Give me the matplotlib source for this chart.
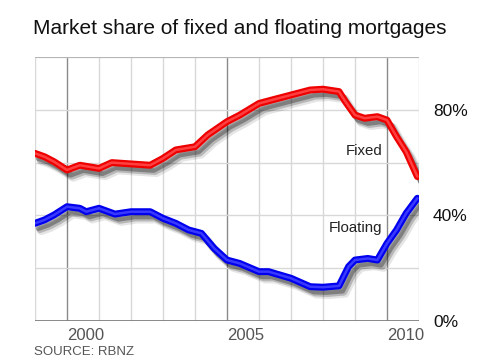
import matplotlib
matplotlib.use("Agg")
import matplotlib.pyplot as plt
import matplotlib.patheffects as pe

# ── data ──────────────────────────────────────────────────────────────────────

fixed_years = [1999.0, 1999.3, 1999.6, 2000.0, 2000.4, 2001.0, 2001.4, 2002.0,
               2002.6, 2003.0, 2003.4, 2004.0, 2004.4, 2005.0, 2005.4, 2006.0,
               2006.4, 2007.0, 2007.6, 2008.0, 2008.5, 2008.7, 2009.0, 2009.3,
               2009.7, 2010.0, 2010.3, 2010.6, 2010.95]
fixed_share = [63.5, 62.2, 60.3, 57.2, 59.0, 57.8, 60.0, 59.5,
               59.0, 61.6, 64.8, 66.0, 70.5, 75.5, 78.0, 82.4,
               83.7, 85.6, 87.5, 87.8, 86.9, 83.1, 78.0, 76.8,
               77.4, 76.1, 69.8, 64.1, 54.7]

float_years = [1999.0, 1999.3, 1999.6, 2000.0, 2000.4, 2000.6, 2001.0, 2001.5,
               2002.0, 2002.6, 2003.0, 2003.4, 2003.8, 2004.2, 2004.6, 2005.0,
               2005.4, 2006.0, 2006.3, 2007.0, 2007.6, 2008.0, 2008.5, 2008.8,
               2009.0, 2009.4, 2009.7, 2010.0, 2010.3, 2010.6, 2010.95]
float_share = [37.0, 38.3, 40.2, 43.3, 42.7, 41.4, 42.7, 40.5,
               41.4, 41.4, 38.9, 37.0, 34.5, 33.2, 27.5, 23.1,
               21.8, 18.7, 18.7, 16.2, 13.0, 12.8, 13.3, 20.6,
               23.1, 23.7, 23.1, 29.4, 34.5, 40.8, 46.5]

year_ticks = [2000, 2005, 2010]
share_ticks = [0, 40, 80]

# ── figure ────────────────────────────────────────────────────────────────────

plt.rcParams["font.family"] = ["Liberation Sans", "DejaVu Sans"]

fig = plt.figure(figsize=(4.8, 3.6), dpi=100)
ax = fig.add_axes([0.0729, 0.1083, 0.80, 0.7334])

ax.set_xlim(1999, 2011)
ax.set_ylim(0, 100)

# grid
for yr in range(1999, 2012):
    dark = yr in year_ticks
    ax.axvline(yr, color="#8a8a8a" if dark else "#d8d8d8",
               lw=1.0, zorder=1)
for v in range(0, 101, 20):
    ax.axhline(v, color="#d8d8d8", lw=1.0, zorder=1)

for s in ax.spines.values():
    s.set_visible(False)
ax.axhline(0, color="#777777", lw=1.2, zorder=2)
ax.axhline(100, color="#b0b0b0", lw=1.2, zorder=2)

# soft drop shadow, down and to the right
shadow = [pe.SimpleLineShadow(offset=(4.5, -5.5), shadow_color="k", alpha=0.10, linewidth=6),
          pe.SimpleLineShadow(offset=(3.5, -4.5), shadow_color="k", alpha=0.20, linewidth=5),
          pe.SimpleLineShadow(offset=(2.5, -3.5), shadow_color="k", alpha=0.30, linewidth=4),
          pe.Normal()]

ax.plot(fixed_years, fixed_share, color="#ee0000", lw=5,
        solid_capstyle="round", path_effects=shadow, zorder=4)
ax.plot(fixed_years, fixed_share, color="#ff4040", lw=1.8,
        solid_capstyle="round", zorder=5)
ax.plot(float_years, float_share, color="#0000ee", lw=5,
        solid_capstyle="round", path_effects=shadow, zorder=4)
ax.plot(float_years, float_share, color="#3a3aff", lw=1.8,
        solid_capstyle="round", zorder=5)

ax.text(2009.85, 64.4, "Fixed", fontsize=10.8, color="#222222",
        ha="right", va="center", zorder=6)
ax.text(2009.85, 35.2, "Floating", fontsize=10.8, color="#222222",
        ha="right", va="center", zorder=6)

ax.set_xticks(year_ticks)
ax.set_xticklabels([str(y) for y in year_ticks], color="#555555",
                   fontsize=12, ha="left")
ax.tick_params(axis="x", length=0, pad=5)

ax.yaxis.tick_right()
ax.set_yticks(share_ticks)
ax.set_yticklabels([f"{v}%" for v in share_ticks], fontsize=12.5, color="#111111")
ax.tick_params(axis="y", length=0, pad=10)

fig.text(0.069, 0.922, "Market share of fixed and floating mortgages",
         fontsize=15, color="#111111", va="center", ha="left")
fig.text(0.071, 0.022, "SOURCE: RBNZ", fontsize=9.5, color="#555555",
         va="center", ha="left")

fig.savefig("out.png", dpi=100, facecolor="white")
